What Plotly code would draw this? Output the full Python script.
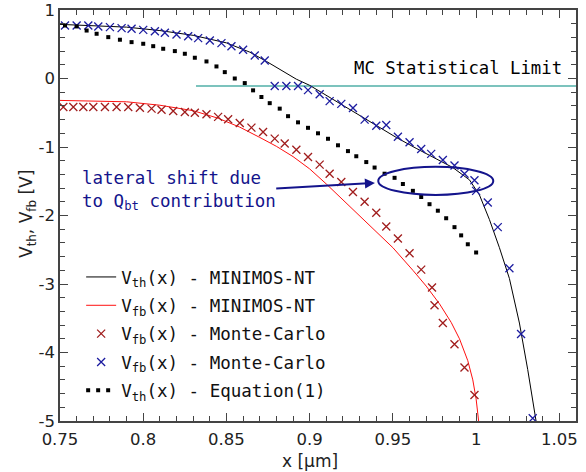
import plotly.graph_objects as go

# ---------------- data ----------------
vth_x = [0.75, 0.77, 0.79, 0.81, 0.83, 0.85, 0.864, 0.874, 0.884, 0.892, 0.900, 0.915, 0.930,
         0.952, 0.964, 0.976, 0.986, 0.996, 1.002, 1.008, 1.014, 1.020, 1.026, 1.031, 1.036]
vth_y = [0.79, 0.775, 0.75, 0.70, 0.63, 0.52, 0.385, 0.25, 0.10, -0.01, -0.10, -0.32, -0.54,
         -0.86, -1.02, -1.17, -1.30, -1.48, -1.70, -2.06, -2.47, -2.92, -3.57, -4.25, -5.0]

vfb_x = [0.75, 0.77, 0.79, 0.81, 0.83, 0.845, 0.858, 0.870, 0.880, 0.890, 0.900, 0.910, 0.920,
         0.930, 0.940, 0.950, 0.962, 0.970, 0.978, 0.985, 0.990, 0.995, 0.998, 1.000, 1.0015]
vfb_y = [-0.32, -0.325, -0.34, -0.39, -0.47, -0.58, -0.71, -0.86, -0.99, -1.14, -1.32, -1.54, -1.77,
         -2.00, -2.23, -2.47, -2.80, -3.03, -3.29, -3.56, -3.80, -4.12, -4.40, -4.68, -5.0]

mc_red_x = [0.752, 0.758, 0.764, 0.770, 0.777, 0.784, 0.791, 0.798, 0.805, 0.811, 0.818, 0.825, 0.831,
            0.838, 0.845, 0.851, 0.858, 0.865, 0.872, 0.879, 0.885, 0.892, 0.899, 0.906, 0.912, 0.919,
            0.926, 0.933, 0.940, 0.946, 0.953, 0.960, 0.967, 0.9735, 0.975, 0.980, 0.987, 0.993, 0.999]
mc_red_y = [-0.417, -0.417, -0.417, -0.417, -0.417, -0.417, -0.417, -0.426, -0.44, -0.455, -0.475, -0.49,
            -0.50, -0.523, -0.56, -0.596, -0.65, -0.717, -0.78, -0.878, -0.95, -1.04, -1.146, -1.257,
            -1.39, -1.51, -1.656, -1.80, -1.96, -2.16, -2.335, -2.55, -2.79, -3.05, -3.31, -3.57,
            -3.88, -4.22, -4.62]

mc_blue_x = [0.753, 0.760, 0.767, 0.773, 0.780, 0.787, 0.793, 0.800, 0.807, 0.813, 0.820, 0.827, 0.833,
             0.840, 0.847, 0.853, 0.860, 0.867, 0.873, 0.879, 0.886, 0.893, 0.899, 0.906, 0.912, 0.919,
             0.926, 0.933, 0.940, 0.946, 0.953, 0.960, 0.967, 0.973, 0.980, 0.987, 0.993, 0.999, 1.000,
             1.007, 1.013, 1.020, 1.027, 1.034]
mc_blue_y = [0.774, 0.774, 0.774, 0.760, 0.750, 0.735, 0.726, 0.710, 0.690, 0.667, 0.643, 0.618, 0.589,
             0.555, 0.516, 0.472, 0.420, 0.337, 0.264, -0.11, -0.11, -0.11, -0.17, -0.23, -0.33, -0.37,
             -0.43, -0.60, -0.69, -0.68, -0.85, -0.93, -1.03, -1.10, -1.19, -1.27, -1.39, -1.485, -1.64,
             -1.81, -2.17, -2.77, -3.73, -4.96]

eq_x = [0.753, 0.760, 0.766, 0.772, 0.779, 0.786, 0.793, 0.800, 0.806, 0.812, 0.819, 0.825, 0.831,
        0.838, 0.844, 0.849, 0.855, 0.861, 0.866, 0.871, 0.876, 0.882, 0.887, 0.893, 0.899, 0.905,
        0.911, 0.917, 0.923, 0.928, 0.934, 0.939, 0.945, 0.951, 0.956, 0.962, 0.967, 0.972, 0.977,
        0.982, 0.987, 0.991, 0.995, 1.000]
eq_y = [0.774, 0.76, 0.70, 0.653, 0.604, 0.566, 0.531, 0.507, 0.472, 0.434, 0.40, 0.361, 0.303,
        0.249, 0.176, 0.093, 0.0, -0.067, -0.173, -0.27, -0.36, -0.44, -0.55, -0.64, -0.72, -0.80,
        -0.88, -0.975, -1.06, -1.135, -1.22, -1.30, -1.39, -1.45, -1.54, -1.64, -1.73, -1.835, -1.93,
        -2.04, -2.17, -2.29, -2.42, -2.54]

mc_limit_x = [0.8317, 1.06]
mc_limit_y = [-0.11, -0.11]

x_tickvals = [0.75, 0.8, 0.85, 0.9, 0.95, 1.0, 1.05]
x_ticktext = ["0.75", "0.8", "0.85", "0.9", "0.95", "1", "1.05"]
y_tickvals = [1, 0, -1, -2, -3, -4, -5]
y_ticktext = ["1", "0", "-1", "-2", "-3", "-4", "-5"]

# ---------------- styles ----------------
MONO = "DejaVu Sans Mono"
SANS = "DejaVu Sans"
NAVY = "#14148c"
AX = "#444444"
RED_X = "#a01c1c"
BLUE_X = "#1c1ca0"

fig = go.Figure()

fig.add_trace(go.Scatter(x=mc_limit_x, y=mc_limit_y, mode="lines",
                         line=dict(color="#7cc3bd", width=2), showlegend=False, hoverinfo="skip"))
fig.add_trace(go.Scatter(x=vth_x, y=vth_y, mode="lines", line=dict(color="black", width=1),
                         name="V<sub>th</sub>(x) - MINIMOS-NT", legendgroup="a"))
fig.add_trace(go.Scatter(x=vfb_x, y=vfb_y, mode="lines", line=dict(color="#ff1010", width=1),
                         name="V<sub>fb</sub>(x) - MINIMOS-NT", legendgroup="b"))
fig.add_trace(go.Scatter(x=mc_red_x, y=mc_red_y, mode="markers",
                         marker=dict(symbol="x-thin-open", size=8, color=RED_X, line=dict(color=RED_X, width=1.3)),
                         name="V<sub>fb</sub>(x) - Monte-Carlo", legendgroup="c"))
fig.add_trace(go.Scatter(x=mc_blue_x, y=mc_blue_y, mode="markers",
                         marker=dict(symbol="x-thin-open", size=8, color=BLUE_X, line=dict(color=BLUE_X, width=1.3)),
                         name="V<sub>fb</sub>(x) - Monte-Carlo", legendgroup="d"))
fig.add_trace(go.Scatter(x=eq_x, y=eq_y, mode="markers",
                         marker=dict(symbol="square", size=4, color="black"),
                         showlegend=False, hoverinfo="skip", legendgroup="e"))
fig.add_trace(go.Scatter(x=[None], y=[None], mode="lines",
                         line=dict(color="black", width=4, dash="4px,6px"),
                         name="V<sub>th</sub>(x) - Equation(1)", legendgroup="e"))

# ellipse marking the lateral shift
fig.add_shape(type="circle", xref="x", yref="y", x0=0.9412, x1=1.0103, y0=-1.70, y1=-1.29,
              line=dict(color=NAVY, width=2))

fig.add_annotation(x=0.9392, y=-1.525, ax=0.879, ay=-1.607, xref="x", yref="y", axref="x", ayref="y",
                   showarrow=True, arrowhead=2, arrowsize=1, arrowwidth=2, arrowcolor=NAVY, text="")
fig.add_annotation(x=0.762, y=-1.63, xref="x", yref="y", xanchor="left", yanchor="middle", align="left",
                   showarrow=False, text="lateral shift due<br>to Q<sub>bt</sub> contribution",
                   font=dict(family=MONO, size=17.5, color=NAVY))
fig.add_annotation(x=1.053, y=0.15, xref="x", yref="y", xanchor="right", yanchor="middle",
                   showarrow=False, text="MC Statistical Limit",
                   font=dict(family=MONO, size=17.3, color="black"))

# axis titles
fig.add_annotation(x=0.4845, y=-0.098, xref="paper", yref="paper", xanchor="center", yanchor="middle",
                   showarrow=False, text="x [μm]", font=dict(family=SANS, size=17, color="#222"))
fig.add_annotation(x=-0.064, y=0.5036, xref="paper", yref="paper", xanchor="center", yanchor="middle",
                   showarrow=False, textangle=-90, text="V<sub>th</sub>, V<sub>fb</sub> [V]",
                   font=dict(family=SANS, size=17, color="#222"))

axis_common = dict(showline=True, linecolor=AX, linewidth=1.5, mirror="allticks", ticks="inside",
                   tickcolor=AX, ticklen=8, tickwidth=1, showgrid=False, zeroline=False,
                   automargin=False, tickfont=dict(family=SANS, size=16.5, color="#222"))

fig.update_xaxes(range=[0.75, 1.06], tickmode="array", tickvals=x_tickvals, ticktext=x_ticktext,
                 minor=dict(dtick=0.01, tick0=0.75, ticks="inside", ticklen=5, tickcolor=AX),
                 ticklabelstandoff=2, **axis_common)
fig.update_yaxes(range=[-5, 1], tickmode="array", tickvals=y_tickvals, ticktext=y_ticktext,
                 minor=dict(dtick=0.2, tick0=0, ticks="inside", ticklen=5, tickcolor=AX),
                 **axis_common)

fig.update_layout(
    width=586, height=472,
    margin=dict(l=60, r=10, t=10, b=51),
    plot_bgcolor="white", paper_bgcolor="white",
    legend=dict(x=0.041, y=0.394, xanchor="left", yanchor="top", bgcolor="rgba(0,0,0,0)",
                font=dict(family=MONO, size=17.5, color="#111"), itemwidth=30,
                tracegroupgap=2.6, traceorder="grouped"),
)

fig.write_html("out.html", config={"displayModeBar": False},
               post_script="document.body.style.margin='0';document.body.style.overflow='hidden';")
